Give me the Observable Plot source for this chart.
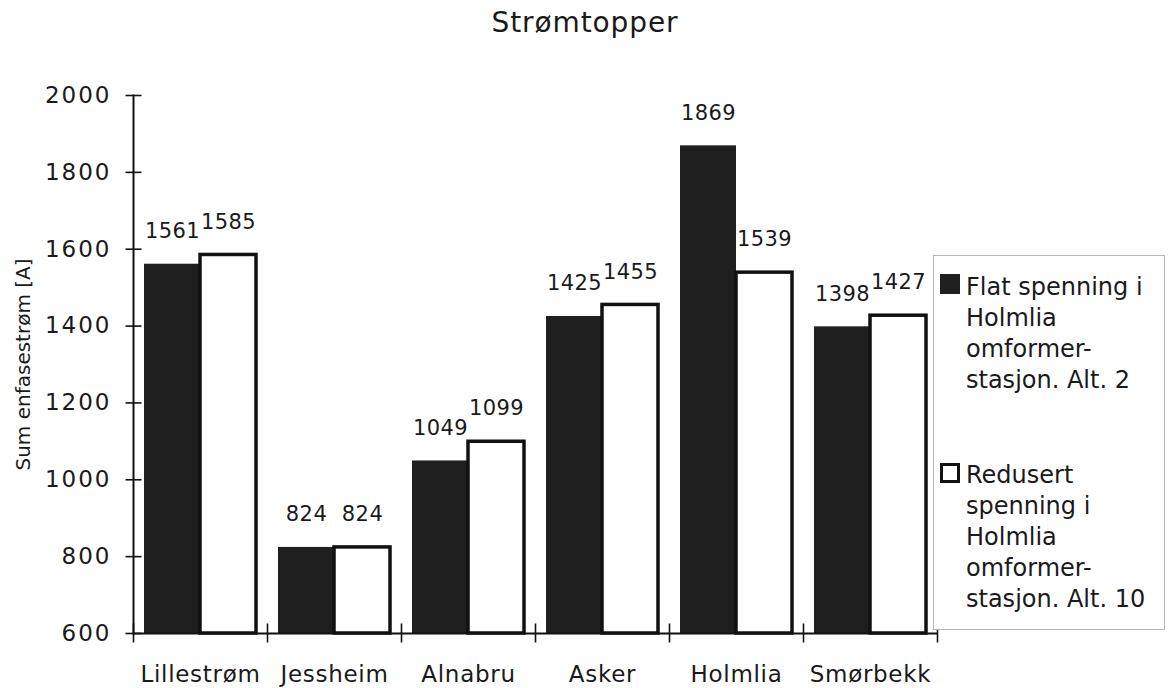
<!DOCTYPE html>
<html>
<head>
<meta charset="utf-8">
<script src="https://cdn.jsdelivr.net/npm/d3@7"></script>
<script src="https://cdn.jsdelivr.net/npm/@observablehq/plot@0.6"></script>
<style>
  html, body { margin: 0; padding: 0; background: #fff; }
  #chart { position: relative; width: 1170px; height: 688px; font-family: "DejaVu Sans", sans-serif; color: #1a1a1a; }
  #title { height: 50px; box-sizing: border-box; padding-top: 9px; text-align: center; font-size: 28px; line-height: 28px; letter-spacing: 0.9px; }
  #legend { position: absolute; left: 933px; top: 255px; width: 232px; height: 375px; box-sizing: border-box;
            border: 1.5px solid #b8b8b8; background: #fff; }
  .item { position: absolute; left: 6px; display: flex; align-items: flex-start; }
  .swatch { width: 20px; height: 20px; box-sizing: border-box; margin-right: 6px; }
  .lines { font-size: 24px; line-height: 31px; white-space: nowrap; }
  [aria-label="y-axis tick label"] text { letter-spacing: 2px; }
  [aria-label="fx-axis tick label"] text { letter-spacing: 0.7px; }
  .vals text { letter-spacing: 0.4px; }
</style>
</head>
<body>
<div id="chart">
  <div id="title"></div>
  <div id="legend"></div>
</div>
<script>
// Stations along the x axis
const stations = ["Lillestrøm", "Jessheim", "Alnabru", "Asker", "Holmlia", "Smørbekk"];
// Peak summed single-phase current [A] for each alternative
const flatAlt2 = [1561, 824, 1049, 1425, 1869, 1398];
const redusertAlt10 = [1585, 824, 1099, 1455, 1539, 1427];
const seriesKeys = ["Alt. 2", "Alt. 10"];
const seriesFill = ["#1f1f1f", "#ffffff"];
const legendLines = [
  ["Flat spenning i", "Holmlia", "omformer-", "stasjon. Alt. 2"],
  ["Redusert", "spenning i", "Holmlia", "omformer-", "stasjon. Alt. 10"]
];
const yTicks = [600, 800, 1000, 1200, 1400, 1600, 1800, 2000];
const yDomain = [600, 2000];
const titleText = "Strømtopper";
const yLabel = "Sum enfasestrøm [A]";

const rows = stations.flatMap((s, i) => [
  {station: s, series: seriesKeys[0], value: flatAlt2[i]},
  {station: s, series: seriesKeys[1], value: redusertAlt10[i]}
]);

// tick glyphs that cross the axis lines
const hTick = {draw(ctx) { ctx.moveTo(-8, 0); ctx.lineTo(8, 0); }};
const vTick = {draw(ctx) { ctx.moveTo(0, -10); ctx.lineTo(0, 9); }};

const plot = Plot.plot({
  width: 1170,
  height: 638,
  marginLeft: 130,
  marginRight: 231,
  marginTop: 45,
  marginBottom: 55,
  style: {fontFamily: "'DejaVu Sans', sans-serif", fontSize: "22px", color: "#1a1a1a", background: "transparent", overflow: "visible"},
  fx: {domain: stations, padding: 0, label: null},
  x: {domain: seriesKeys, paddingInner: 0, paddingOuter: 0.184, axis: null},
  y: {domain: yDomain, label: null},
  marks: [
    Plot.barY(rows.filter(d => d.series === seriesKeys[0]), {
      fx: "station", x: "series", y1: () => yDomain[0], y2: "value", fill: seriesFill[0]
    }),
    Plot.barY(rows.filter(d => d.series === seriesKeys[1]), {
      fx: "station", x: "series", y1: () => yDomain[0], y2: "value",
      fill: seriesFill[1], stroke: "#111", strokeWidth: 3.5
    }),
    Plot.ruleY([yDomain[0]], {stroke: "#111", strokeWidth: 2}),
    Plot.frame({anchor: "left", facetAnchor: "left", stroke: "#111", strokeWidth: 2}),
    Plot.dotY(yTicks, {frameAnchor: "left", facetAnchor: "left", symbol: hTick, fill: "none", stroke: "#111", strokeWidth: 1.6}),
    Plot.dot(stations, {fx: d => d, x: null, y: null, frameAnchor: "bottom-left", symbol: vTick, fill: "none", stroke: "#111", strokeWidth: 1.6}),
    Plot.dot(stations.slice(-1), {fx: d => d, x: null, y: null, frameAnchor: "bottom-right", symbol: vTick, fill: "none", stroke: "#111", strokeWidth: 1.6}),
    Plot.axisY(yTicks, {tickSize: 0, tickPadding: 22, fontSize: 23, label: null, tickFormat: d => String(d)}),
    Plot.axisFx({anchor: "bottom", tickSize: 0, tickPadding: 32, fontSize: 23, label: null}),
    Plot.text(rows, {fx: "station", x: "series", y: "value", text: d => String(d.value), dy: -33, fontSize: 21, fill: "#1a1a1a", className: "vals"}),
    Plot.text([yLabel], {text: d => d, frameAnchor: "left", facetAnchor: "left", textAnchor: "middle", lineAnchor: "middle", rotate: -90, dx: -110, fontSize: 20, fill: "#1a1a1a"})
  ]
});

document.getElementById("title").textContent = titleText;
const chart = document.getElementById("chart");
chart.insertBefore(plot, document.getElementById("legend"));

// legend box on the right
const legend = document.getElementById("legend");
const itemTops = [16, 204];
legendLines.forEach((lines, i) => {
  const item = document.createElement("div");
  item.className = "item";
  item.style.top = itemTops[i] + "px";
  const sw = document.createElement("div");
  sw.className = "swatch";
  sw.style.background = seriesFill[i];
  sw.style.marginTop = (i === 0 ? 2 : 3) + "px";
  if (i === 1) sw.style.border = "3px solid #111";
  const txt = document.createElement("div");
  txt.className = "lines";
  txt.innerHTML = lines.map(l => `<div>${l}</div>`).join("");
  item.appendChild(sw);
  item.appendChild(txt);
  legend.appendChild(item);
});
</script>
</body>
</html>
